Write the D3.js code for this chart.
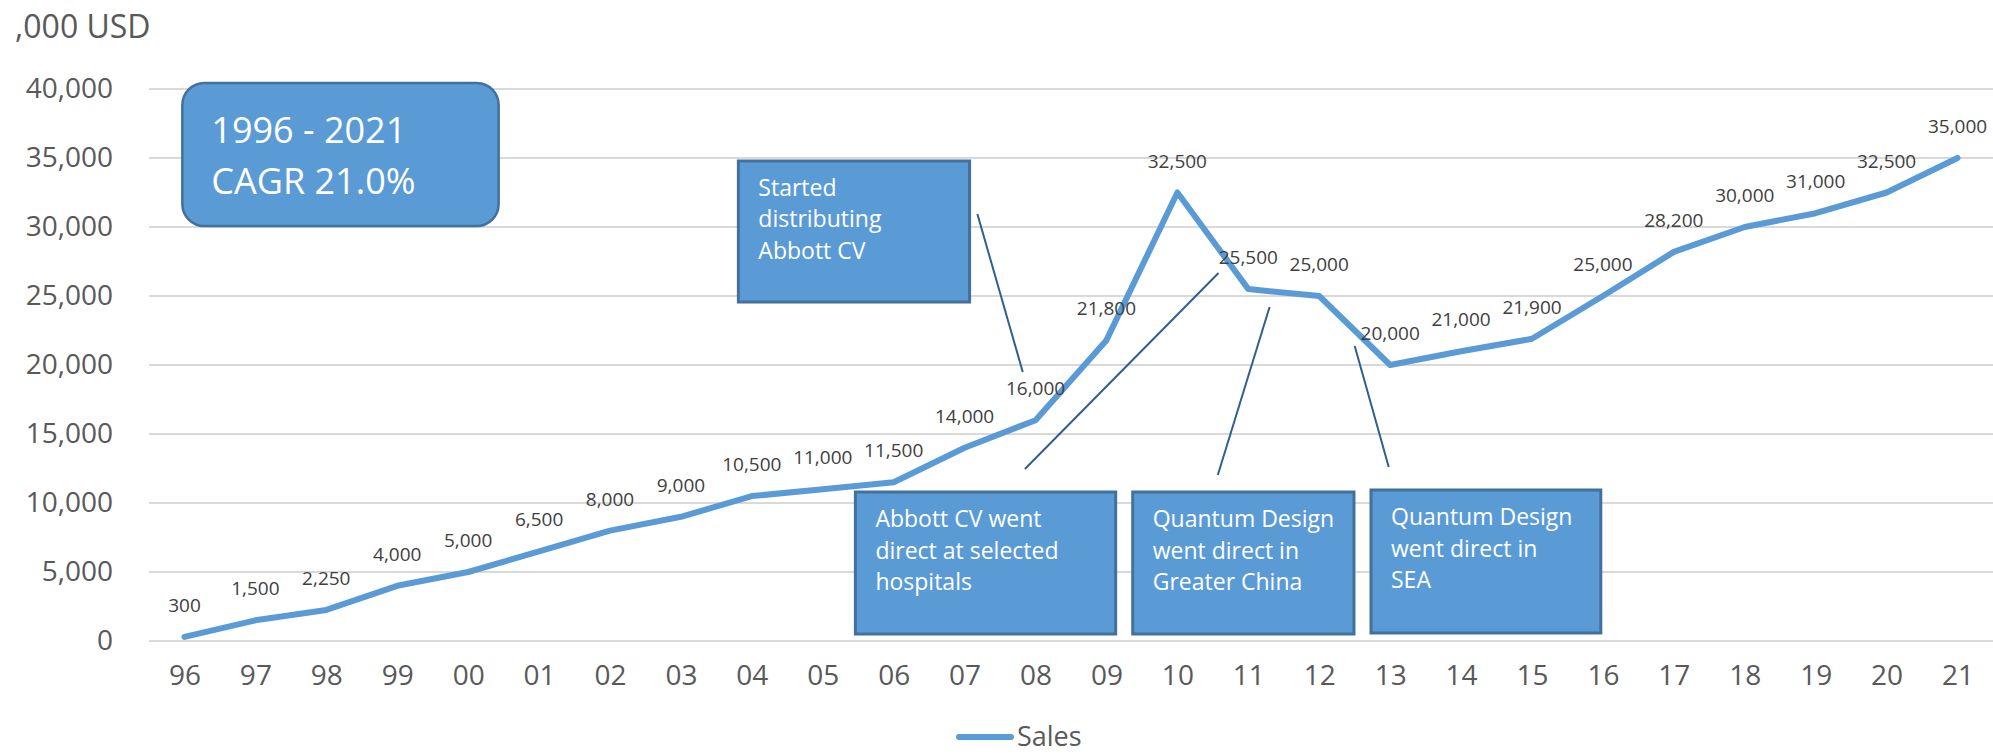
<!DOCTYPE html>
<html>
<head>
<meta charset="utf-8">
<script src="https://cdn.jsdelivr.net/npm/d3@7/dist/d3.min.js"></script>
<style>
  html, body { margin: 0; padding: 0; background: #ffffff; }
  svg { display: block; font-family: "Open Sans", "Noto Sans", sans-serif; }
</style>
</head>
<body>
<svg id="chart" width="1993" height="755"></svg>
<script>
// ---- data ----
const categories = ["96","97","98","99","00","01","02","03","04","05","06","07","08","09","10","11","12","13","14","15","16","17","18","19","20","21"];
const sales = [300,1500,2250,4000,5000,6500,8000,9000,10500,11000,11500,14000,16000,21800,32500,25500,25000,20000,21000,21900,25000,28200,30000,31000,32500,35000];
const yTicks = [0,5000,10000,15000,20000,25000,30000,35000,40000];
const seriesName = "Sales";
const unitLabel = ",000 USD";

// callouts: extents in (category index, value) units
const summaryLines = ["1996 - 2021", "CAGR 21.0%"];
const summaryBox = { i0: -0.03, i1: 4.43, vTop: 40435, vBot: 30072 };

const calloutTexts = [
  ["Started", "distributing", "Abbott CV"],
  ["Abbott CV went", "direct at selected", "hospitals"],
  ["Quantum Design", "went direct in", "Greater China"],
  ["Quantum Design", "went direct in", "SEA"]
];
const calloutBoxes = [
  { i0: 7.81, i1: 11.07, vTop: 34783, vBot: 24565 },
  { i0: 9.46, i1: 13.13, vTop: 10797, vBot: 507 },
  { i0: 13.37, i1: 16.49, vTop: 10797, vBot: 507 },
  { i0: 16.73, i1: 19.97, vTop: 10942, vBot: 580 }
];
const leaders = [
  { i0: 11.18, v0: 30942, i1: 11.82, v1: 19493 },
  { i0: 11.85, v0: 12464, i1: 14.58, v1: 26667 },
  { i0: 14.57, v0: 12029, i1: 15.30, v1: 24203 },
  { i0: 16.50, v0: 21377, i1: 16.98, v1: 12609 }
];

// ---- layout ----
const svg = d3.select("#chart");
const plot = { left: 149, right: 1993, top: 89, bottom: 641 };

const x = d3.scalePoint().domain(categories).range([plot.left, plot.right]).padding(0.5);
const y = d3.scaleLinear().domain([0, 40000]).range([plot.bottom, plot.top]);
const xi = i => x(categories[0]) + i * x.step();
const fmt = d3.format(",");

// gridlines
svg.append("g").selectAll("line").data(yTicks).join("line")
  .attr("x1", plot.left).attr("x2", plot.right)
  .attr("y1", d => y(d)).attr("y2", d => y(d))
  .attr("stroke", "#d9d9d9").attr("stroke-width", 2);

// y axis labels
const yAxis = svg.append("g").attr("transform", `translate(${plot.left},0)`)
  .call(d3.axisLeft(y).tickValues(yTicks).tickFormat(fmt).tickSize(0).tickPadding(36));
yAxis.select(".domain").remove();
yAxis.selectAll("text").attr("font-size", 28).attr("fill", "#595959")
  .attr("font-family", "Open Sans, sans-serif");

// x axis labels
const xAxis = svg.append("g").attr("transform", `translate(0,${plot.bottom})`)
  .call(d3.axisBottom(x).tickSize(0).tickPadding(24));
xAxis.select(".domain").remove();
xAxis.selectAll("text").attr("font-size", 28).attr("fill", "#595959")
  .attr("font-family", "Open Sans, sans-serif");

// unit label
svg.append("text").attr("x", 15).attr("y", 38).text(unitLabel)
  .attr("font-size", 32).attr("fill", "#595959");

// line
const line = d3.line().x((d, i) => x(categories[i])).y(d => y(d));
svg.append("path").datum(sales).attr("d", line)
  .attr("fill", "none").attr("stroke", "#5b9bd5").attr("stroke-width", 6)
  .attr("stroke-linejoin", "round").attr("stroke-linecap", "round");

// data labels
svg.append("g").selectAll("text").data(sales).join("text")
  .attr("x", (d, i) => x(categories[i]))
  .attr("y", d => y(d) - 25)
  .attr("text-anchor", "middle")
  .attr("font-size", 19).attr("fill", "#404040")
  .text(d => fmt(d));

// summary box
const sb = svg.append("g");
sb.append("rect")
  .attr("x", xi(summaryBox.i0)).attr("y", y(summaryBox.vTop))
  .attr("width", xi(summaryBox.i1) - xi(summaryBox.i0))
  .attr("height", y(summaryBox.vBot) - y(summaryBox.vTop))
  .attr("rx", 22).attr("ry", 22)
  .attr("fill", "#5b9bd5").attr("stroke", "#41719c").attr("stroke-width", 2.5);
sb.selectAll("text").data(summaryLines).join("text")
  .attr("x", xi(summaryBox.i0) + 29)
  .attr("y", (d, k) => y(summaryBox.vTop) + 60 + k * 51)
  .attr("font-size", 36).attr("fill", "#ffffff").text(d => d);

// leader lines
svg.append("g").selectAll("line").data(leaders).join("line")
  .attr("x1", d => xi(d.i0)).attr("y1", d => y(d.v0))
  .attr("x2", d => xi(d.i1)).attr("y2", d => y(d.v1))
  .attr("stroke", "#2f5f8f").attr("stroke-width", 2);

// callout boxes
calloutBoxes.forEach((b, k) => {
  const g = svg.append("g");
  const bx = xi(b.i0), by = y(b.vTop);
  g.append("rect").attr("x", bx).attr("y", by)
    .attr("width", xi(b.i1) - bx).attr("height", y(b.vBot) - by)
    .attr("fill", "#5b9bd5").attr("stroke", "#41719c").attr("stroke-width", 3);
  g.selectAll("text").data(calloutTexts[k]).join("text")
    .attr("x", bx + 20).attr("y", (d, j) => by + 35 + j * 31.5)
    .attr("font-size", 23).attr("fill", "#ffffff").text(d => d);
});

// legend
const lg = svg.append("g");
lg.append("line").attr("x1", 959).attr("x2", 1011).attr("y1", 737).attr("y2", 737)
  .attr("stroke", "#5b9bd5").attr("stroke-width", 6).attr("stroke-linecap", "round");
lg.append("text").attr("x", 1017).attr("y", 746).attr("font-size", 27)
  .attr("fill", "#595959").text(seriesName);
</script>
</body>
</html>
